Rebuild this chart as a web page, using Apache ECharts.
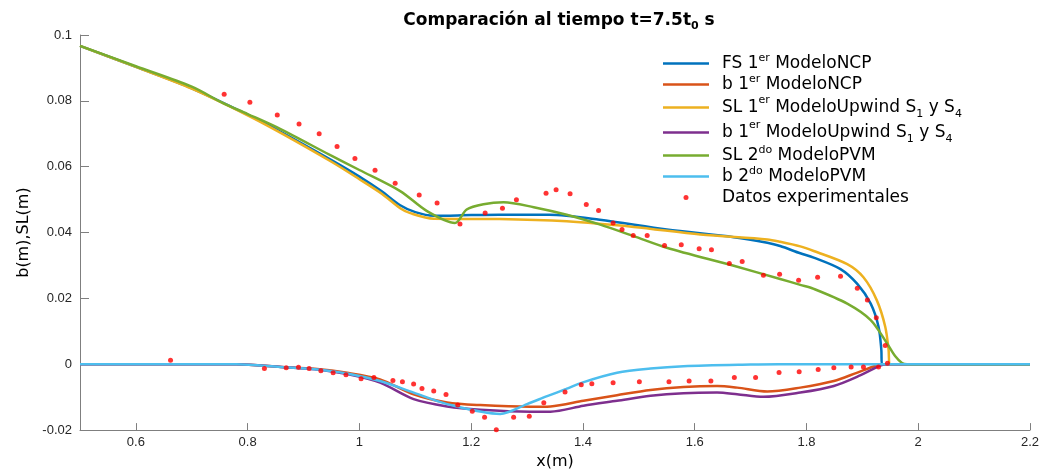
<!DOCTYPE html>
<html>
<head>
<meta charset="utf-8">
<script src="https://cdn.jsdelivr.net/npm/echarts@6/dist/echarts.min.js"></script>
<style>
  html, body { margin: 0; padding: 0; background: #fff; }
  #chart { width: 1042px; height: 475px; }
</style>
</head>
<body>
<div id="chart"></div>
<script>
// tick labels of the x axis
var xTicks = [0.6, 0.8, 1, 1.2, 1.4, 1.6, 1.8, 2, 2.2];

// FS 1er ModeloNCP (superficie libre)
var fsNcpX = [0.5, 0.6, 0.7, 0.8, 0.86, 0.95, 1.0, 1.04, 1.073, 1.1, 1.133, 1.2, 1.25, 1.34, 1.43, 1.55, 1.67, 1.73, 1.753, 1.789, 1.813, 1.861, 1.891, 1.915, 1.929, 1.934, 1.935, 2.2];
var fsNcpY = [0.0967, 0.0903, 0.0838, 0.0758, 0.0705, 0.0620, 0.0570, 0.0525, 0.0483, 0.0462, 0.0451, 0.0453, 0.0454, 0.0454, 0.0439, 0.0409, 0.0386, 0.0369, 0.0359, 0.0337, 0.0324, 0.0289, 0.0244, 0.0184, 0.0114, 0.0044, 0, 0];

// b 1er ModeloNCP (fondo)
var bNcpX = [0.5, 0.78, 0.86, 0.92, 0.978, 1.037, 1.097, 1.157, 1.216, 1.306, 1.342, 1.401, 1.461, 1.521, 1.58, 1.64, 1.676, 1.73, 1.789, 1.849, 1.89, 1.926, 1.94, 2.2];
var bNcpY = [0, 0, -0.0008, -0.0014, -0.0026, -0.0046, -0.0091, -0.0116, -0.0124, -0.0129, -0.0128, -0.0111, -0.0094, -0.0078, -0.0069, -0.0066, -0.0071, -0.0083, -0.0071, -0.0051, -0.0026, -0.0004, 0, 0];

// SL 1er ModeloUpwind
var slUpX = [0.5, 0.6, 0.7, 0.8, 0.86, 0.95, 1.0, 1.04, 1.073, 1.091, 1.133, 1.25, 1.371, 1.491, 1.61, 1.73, 1.753, 1.789, 1.813, 1.873, 1.902, 1.926, 1.941, 1.947, 1.949, 2.2];
var slUpY = [0.0967, 0.0903, 0.0837, 0.0756, 0.0702, 0.0615, 0.0562, 0.0518, 0.0474, 0.0459, 0.0442, 0.0441, 0.0434, 0.0417, 0.0394, 0.0379, 0.0372, 0.0358, 0.0344, 0.0304, 0.0264, 0.0194, 0.0114, 0.0044, 0, 0];

// b 1er ModeloUpwind
var bUpX = [0.5, 0.78, 0.86, 0.92, 0.978, 1.037, 1.097, 1.157, 1.216, 1.306, 1.342, 1.401, 1.461, 1.521, 1.58, 1.64, 1.676, 1.723, 1.789, 1.849, 1.896, 1.932, 1.945, 2.2];
var bUpY = [0, 0, -0.0008, -0.0015, -0.0030, -0.0056, -0.0106, -0.0128, -0.0138, -0.0144, -0.0144, -0.0126, -0.0111, -0.0096, -0.0088, -0.0086, -0.0091, -0.0099, -0.0086, -0.0066, -0.0034, -0.0004, 0, 0];

// SL 2do ModeloPVM
var slPvmX = [0.5, 0.6, 0.7, 0.756, 0.8, 0.858, 0.948, 1.0, 1.073, 1.121, 1.171, 1.192, 1.222, 1.258, 1.312, 1.371, 1.431, 1.491, 1.55, 1.67, 1.753, 1.789, 1.813, 1.873, 1.915, 1.944, 1.959, 1.971, 1.98, 2.2];
var slPvmY = [0.0967, 0.0905, 0.0843, 0.0793, 0.0760, 0.0715, 0.0635, 0.0590, 0.0526, 0.0465, 0.0429, 0.0470, 0.0486, 0.0492, 0.0477, 0.0454, 0.0424, 0.0389, 0.0354, 0.0299, 0.0259, 0.0241, 0.0229, 0.0184, 0.0134, 0.0064, 0.0024, 0.0004, 0, 0];

// b 2do ModeloPVM
var bPvmX = [0.5, 0.78, 0.858, 0.92, 0.978, 1.037, 1.097, 1.157, 1.252, 1.30, 1.336, 1.37, 1.40, 1.461, 1.521, 1.58, 1.7, 1.75, 2.2];
var bPvmY = [0, 0, -0.0008, -0.0015, -0.0028, -0.0051, -0.0086, -0.0121, -0.0151, -0.0121, -0.0097, -0.0075, -0.0055, -0.0026, -0.0013, -0.0006, -0.0001, 0, 0];

// Datos experimentales
var expTopX = [0.758, 0.804, 0.853, 0.892, 0.928, 0.960, 0.992, 1.028, 1.064, 1.107, 1.139, 1.180, 1.225, 1.256, 1.281, 1.334, 1.352, 1.377, 1.406, 1.428, 1.454, 1.470, 1.490, 1.515, 1.546, 1.576, 1.608, 1.630, 1.662, 1.685, 1.723, 1.752, 1.786, 1.820, 1.861, 1.891, 1.909, 1.925, 1.941, 1.945];
var expTopY = [0.0820, 0.0796, 0.0757, 0.0730, 0.0700, 0.0661, 0.0625, 0.0589, 0.0550, 0.0514, 0.0490, 0.0426, 0.0459, 0.0474, 0.0500, 0.0519, 0.0530, 0.0518, 0.0485, 0.0467, 0.0429, 0.0409, 0.0391, 0.0391, 0.0361, 0.0363, 0.0351, 0.0348, 0.0306, 0.0312, 0.0270, 0.0273, 0.0255, 0.0264, 0.0267, 0.0231, 0.0195, 0.0141, 0.0057, 0.0003];
var expBotX = [0.662, 0.830, 0.869, 0.891, 0.910, 0.931, 0.953, 0.976, 1.003, 1.026, 1.060, 1.077, 1.097, 1.112, 1.133, 1.155, 1.176, 1.202, 1.224, 1.245, 1.276, 1.304, 1.330, 1.368, 1.397, 1.416, 1.454, 1.501, 1.554, 1.590, 1.629, 1.671, 1.709, 1.751, 1.787, 1.821, 1.849, 1.880, 1.902, 1.929];
var expBotY = [0.0012, -0.0013, -0.0011, -0.0009, -0.0013, -0.0020, -0.0026, -0.0032, -0.0044, -0.0040, -0.0049, -0.0053, -0.0060, -0.0074, -0.0081, -0.0092, -0.0124, -0.0143, -0.0161, -0.0199, -0.0161, -0.0158, -0.0117, -0.0084, -0.0062, -0.0059, -0.0056, -0.0053, -0.0053, -0.0051, -0.0051, -0.0040, -0.0040, -0.0025, -0.0023, -0.0016, -0.0011, -0.0008, -0.0008, -0.0008];

function pairs(xs, ys) {
  return xs.map(function (x, i) { return [x, ys[i]]; });
}

// nombres de la leyenda con super/subindices
var legendText = {
  'FS 1er ModeloNCP': 'FS 1{sup|er} ModeloNCP',
  'b 1er ModeloNCP': 'b 1{sup|er} ModeloNCP',
  'SL 1er ModeloUpwind S1 y S4': 'SL 1{sup|er} ModeloUpwind S{sub|1} y S{sub|4}',
  'b 1er ModeloUpwind S1 y S4': 'b 1{sup|er} ModeloUpwind S{sub|1} y S{sub|4}',
  'SL 2do ModeloPVM': 'SL 2{sup|do} ModeloPVM',
  'b 2do ModeloPVM': 'b 2{sup|do} ModeloPVM',
  'Datos experimentales': 'Datos experimentales'
};

// icono de linea fina para la leyenda (se escala manteniendo aspecto)
var lineIcon = 'path://M0,0L46,0L46,2.5L0,2.5Z';

var legendData = Object.keys(legendText).map(function (name) {
  return { name: name, icon: name === 'Datos experimentales' ? 'circle' : lineIcon };
});

function lineSeries(name, color, xs, ys) {
  return {
    name: name,
    type: 'line',
    data: pairs(xs, ys),
    symbol: 'none',
    smooth: 0.3,
    lineStyle: { color: color, width: 2.5 },
    itemStyle: { color: color }
  };
}

var FONT = 'DejaVu Sans';
var chart = echarts.init(document.getElementById('chart'));

chart.setOption({
  backgroundColor: '#fff',
  animation: false,
  title: {
    text: '{t|Comparación al tiempo t=7.5t}{s|0}{t| s}',
    left: 559,
    top: 10,
    padding: 0,
    textAlign: 'center',
    textStyle: {
      rich: {
        t: { fontFamily: FONT, fontSize: 17, fontWeight: 'bold', color: '#000', lineHeight: 22 },
        s: { fontFamily: FONT, fontSize: 11, fontWeight: 'bold', color: '#000', lineHeight: 12, verticalAlign: 'bottom' }
      }
    }
  },
  legend: {
    orient: 'vertical',
    left: 663,
    top: 53,
    padding: 0,
    itemGap: 0,
    itemWidth: 46,
    itemHeight: 5,
    data: legendData,
    formatter: function (name) { return legendText[name]; },
    textStyle: {
      fontFamily: FONT,
      fontSize: 17,
      color: '#000',
      lineHeight: 21,
      padding: [0, 0, 0, 8],
      rich: {
        sup: { fontFamily: FONT, fontSize: 11, color: '#000', lineHeight: 14, verticalAlign: 'top' },
        sub: { fontFamily: FONT, fontSize: 11, color: '#000', lineHeight: 25, verticalAlign: 'bottom' }
      }
    }
  },
  grid: { left: 80, right: 12, top: 35, bottom: 41, containLabel: false },
  xAxis: {
    type: 'value',
    min: 0.5,
    max: 2.2,
    name: 'x(m)',
    nameLocation: 'middle',
    nameGap: 19,
    nameTextStyle: { fontFamily: FONT, fontSize: 16, color: '#000' },
    axisLine: { onZero: false, lineStyle: { color: '#7f7f7f', width: 1 } },
    axisTick: { inside: true, length: 7, customValues: xTicks, lineStyle: { color: '#7f7f7f' } },
    axisLabel: { customValues: xTicks, margin: 6, fontFamily: 'Liberation Sans', fontSize: 13, color: '#262626' },
    splitLine: { show: false }
  },
  yAxis: {
    type: 'value',
    min: -0.02,
    max: 0.1,
    interval: 0.02,
    name: 'b(m),SL(m)',
    nameLocation: 'middle',
    nameRotate: 90,
    nameGap: 42,
    nameTextStyle: { fontFamily: FONT, fontSize: 16, color: '#000' },
    axisLine: { show: true, onZero: false, lineStyle: { color: '#7f7f7f', width: 1 } },
    axisTick: { show: true, inside: true, length: 9, lineStyle: { color: '#7f7f7f' } },
    axisLabel: { margin: 8, fontFamily: 'Liberation Sans', fontSize: 13, color: '#262626' },
    splitLine: { show: false }
  },
  series: [
    lineSeries('FS 1er ModeloNCP', '#0072BD', fsNcpX, fsNcpY),
    lineSeries('b 1er ModeloNCP', '#D95319', bNcpX, bNcpY),
    lineSeries('SL 1er ModeloUpwind S1 y S4', '#EDB120', slUpX, slUpY),
    lineSeries('b 1er ModeloUpwind S1 y S4', '#7E2F8E', bUpX, bUpY),
    lineSeries('SL 2do ModeloPVM', '#77AC30', slPvmX, slPvmY),
    lineSeries('b 2do ModeloPVM', '#4DBEEE', bPvmX, bPvmY),
    {
      name: 'Datos experimentales',
      type: 'scatter',
      data: pairs(expTopX, expTopY).concat(pairs(expBotX, expBotY)),
      symbol: 'circle',
      symbolSize: 5,
      itemStyle: { color: '#FF0000' },
      z: 5
    }
  ]
});
</script>
</body>
</html>
